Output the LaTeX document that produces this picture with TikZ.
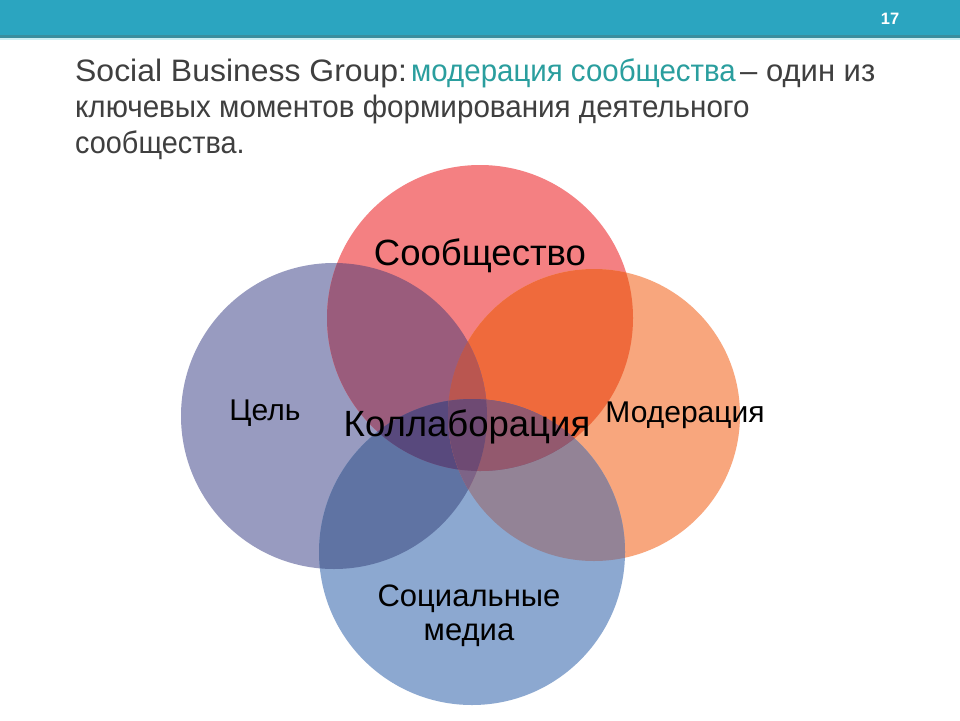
\documentclass[tikz,border=0pt]{standalone}
\usepackage{fontspec}
\setmainfont{Liberation Sans}
\definecolor{bar}{HTML}{2BA5C0}
\definecolor{barline}{HTML}{3A8E9E}
\definecolor{barlight}{HTML}{CDEFF3}
\definecolor{titlegray}{HTML}{3F3F3F}
\definecolor{titleteal}{HTML}{2A9E9E}
\definecolor{colR}{HTML}{F48082}
\definecolor{colO}{HTML}{F8A67D}
\definecolor{colL}{HTML}{989BC0}
\definecolor{colB}{HTML}{8CA8D0}
\definecolor{colRO}{HTML}{EF6A3C}
\definecolor{colRL}{HTML}{9A5C7C}
\definecolor{colLB}{HTML}{5F73A3}
\definecolor{colOB}{HTML}{938396}
\definecolor{colRB}{HTML}{7A5A80}
\definecolor{colLO}{HTML}{A06A7A}
\definecolor{colRLB}{HTML}{58497D}
\definecolor{colROB}{HTML}{93596E}
\definecolor{colRLO}{HTML}{BA5650}
\definecolor{colLOB}{HTML}{7D6487}
\definecolor{colALL}{HTML}{6E4A73}
\def\circR{(480,318) circle[radius=153]}
\def\circL{(334,416) circle[radius=153]}
\def\circO{(594,415) circle[radius=146]}
\def\circB{(472,552) circle[radius=153]}
\begin{document}
\begin{tikzpicture}[x=1pt,y=-1pt,
  lab/.style={inner sep=0pt, text=black, font=\fontsize{30}{34}\selectfont},
  biglab/.style={inner sep=0pt, text=black, font=\fontsize{36.5}{40}\selectfont},
  titleline/.style={inner sep=0pt, anchor=base west, text=titlegray, font=\fontsize{31}{34}\selectfont}]
\useasboundingbox (0,0) rectangle (960,720);
\fill[white] (0,0) rectangle (960,720);
% top bar
\fill[bar] (0,0) rectangle (960,36);
\fill[barline] (0,35) rectangle (960,38);
\fill[barlight] (0,38) rectangle (960,40);
\node[inner sep=0pt, text=white, font=\bfseries\fontsize{16.5}{18}\selectfont] (pagenum) at (890,19) {17};
% title
\node[titleline] (t1a) at (75,81) {\scalebox{1.03}[1]{Social Business Group:}};
\node[titleline, text=titleteal] (t1b) at (411,81) {\scalebox{0.95}[1]{модерация сообщества}};
\node[titleline] (t1c) at (740,81) {– один из};
\node[titleline] (t2) at (75,117) {\scalebox{0.955}[1]{ключевых моментов формирования деятельного}};
\node[titleline] (t3) at (75,153) {\scalebox{0.93}[1]{сообщества.}};
% single circles
\fill[colL] \circL;
\fill[colR] \circR;
\fill[colO] \circO;
\fill[colB] \circB;
% pairs
\begin{scope}\clip \circR; \fill[colRO] \circO; \end{scope}
\begin{scope}\clip \circR; \fill[colRL] \circL; \end{scope}
\begin{scope}\clip \circL; \fill[colLB] \circB; \end{scope}
\begin{scope}\clip \circO; \fill[colOB] \circB; \end{scope}
\begin{scope}\clip \circR; \fill[colRB] \circB; \end{scope}
\begin{scope}\clip \circL; \fill[colLO] \circO; \end{scope}
% triples
\begin{scope}\clip \circR; \clip \circL; \fill[colRLB] \circB; \end{scope}
\begin{scope}\clip \circR; \clip \circO; \fill[colROB] \circB; \end{scope}
\begin{scope}\clip \circR; \clip \circL; \fill[colRLO] \circO; \end{scope}
\begin{scope}\clip \circL; \clip \circO; \fill[colLOB] \circB; \end{scope}
% all four
\begin{scope}\clip \circR; \clip \circL; \clip \circO; \fill[colALL] \circB; \end{scope}
% labels
\node[biglab] (soob) at (480,256) {Сообщество};
\node[biglab] (koll) at (467,427) {Коллаборация};
\node[lab] (cel) at (265,413) {Цель};
\node[lab] (moder) at (685,415) {Модерация};
\node[lab, align=center, font=\fontsize{31}{34}\selectfont] (media) at (469,616) {Социальные\\медиа};
\end{tikzpicture}
\end{document}
